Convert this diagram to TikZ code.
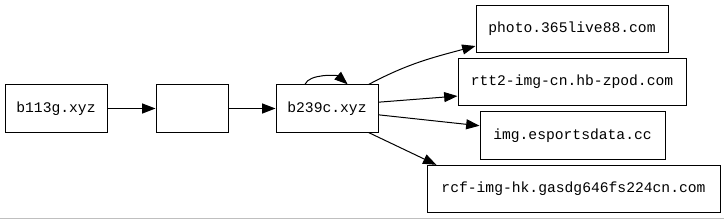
\documentclass[tikz,border=0pt]{standalone}
\usepackage{fontspec}
\setmonofont{Liberation Mono}
\usetikzlibrary{positioning, arrows.meta}

\begin{document}
\begin{tikzpicture}[x=0.75pt, y=-0.75pt, line width=0.75pt,
    host/.style={draw, rectangle, inner sep=0pt, minimum height=35.5pt,
        font=\ttfamily\fontsize{11}{13}\selectfont},
    edge/.style={-{Triangle[length=10pt, width=7.5pt]}}]
    \useasboundingbox (0,0) rectangle (724,219);
    \draw[lightgray, line width=0.9pt] (0,218.5) -- (724,218.5);

    % Hosts
    \node[host, minimum width=76.5pt] (b113g) at (56,108.5) {b113g.xyz};
    \node[host, minimum width=54pt] (hub) at (192,108.5) {};
    \node[host, minimum width=76.5pt] (b239c) at (327,108.5) {b239c.xyz};

    \node[host, minimum width=144pt] (photo) at (572,29) {photo.365live88.com};
    \node[host, minimum width=171pt] (rtt) at (572,82) {rtt2-img-cn.hb-zpod.com};
    \node[host, minimum width=138.75pt] (img) at (572.5,135.5) {img.esportsdata.cc};
    \node[host, minimum width=219.75pt] (rcf) at (573.5,189) {rcf-img-hk.gasdg646fs224cn.com};

    % Chain
    \draw[edge] (b113g) -- (hub);
    \draw[edge] (hub) -- (b239c);

    % Self loop
    \draw[edge] ([xshift=-16.5pt]b239c.north) .. controls +(3pt,8pt) and +(-8pt,7pt) .. ([xshift=15.5pt]b239c.north);

    % Fan out
    \draw[edge] (b239c.30) to[out=28, in=195] (photo.190);
    \draw[edge] (b239c.7) -- (rtt.187);
    \draw[edge] (b239c.353) -- (img.174);
    \draw[edge] (b239c.330) -- (rcf.170);
\end{tikzpicture}
\end{document}
